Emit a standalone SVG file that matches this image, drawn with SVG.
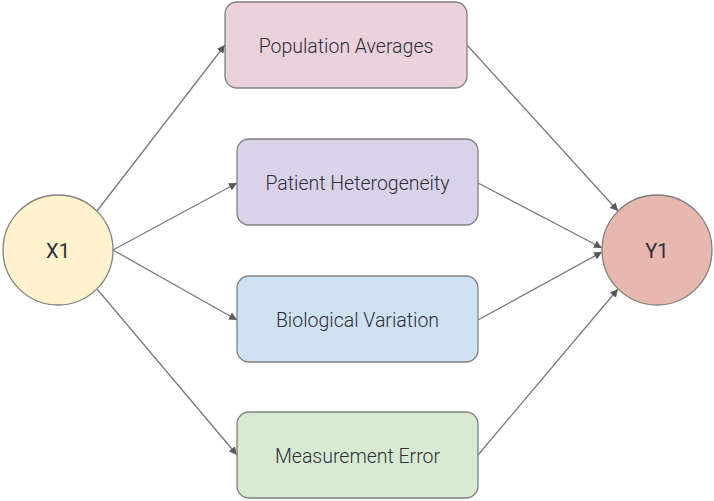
<svg xmlns="http://www.w3.org/2000/svg" width="714" height="501" viewBox="0 0 714 501">
<style>
.node{stroke:#808080;stroke-width:1.3}
.lbl{font-family:Roboto,"Liberation Sans",sans-serif;font-size:19.5px;font-weight:300;fill:#2e2e3a;text-anchor:middle;dominant-baseline:central}
.big{font-size:20px;font-weight:400}
.edge{stroke:#7a7a7a;stroke-width:1.3;fill:none;marker-end:url(#ah)}
</style>
<defs>
<marker id="ah" viewBox="0 0 10 10" refX="10" refY="5" markerWidth="8" markerHeight="8" markerUnits="userSpaceOnUse" orient="auto">
<path d="M0,0 L10,5 L0,10 z" fill="#595959"/>
</marker>
</defs>
<rect width="714" height="501" fill="#ffffff"/>
<g id="connectors">
<line class="edge" x1="97" y1="211" x2="225" y2="45"/>
<line class="edge" x1="113" y1="250" x2="237" y2="183"/>
<line class="edge" x1="113" y1="250" x2="237" y2="320"/>
<line class="edge" x1="97" y1="289" x2="237" y2="455"/>
<line class="edge" x1="467" y1="45" x2="618" y2="211"/>
<line class="edge" x1="478" y1="183" x2="602" y2="248"/>
<line class="edge" x1="478" y1="320" x2="602" y2="252"/>
<line class="edge" x1="478" y1="455" x2="618" y2="289"/>
</g>
<g id="X1">
<circle class="node" cx="58" cy="250" r="55" fill="#fff2cc"/>
<text class="lbl big" x="58" y="251">X1</text>
</g>
<g id="Y1">
<circle class="node" cx="657" cy="250" r="55" fill="#e6b8af"/>
<text class="lbl big" x="657" y="251">Y1</text>
</g>
<g id="population">
<rect class="node" x="225" y="2" width="242" height="86" rx="12" fill="#ead1dc"/>
<text class="lbl" x="346" y="46">Population Averages</text>
</g>
<g id="patient">
<rect class="node" x="237" y="139" width="241" height="86" rx="12" fill="#d9d2e9"/>
<text class="lbl" x="357.5" y="183">Patient Heterogeneity</text>
</g>
<g id="biological">
<rect class="node" x="237" y="276" width="241" height="86" rx="12" fill="#cfe2f3"/>
<text class="lbl" x="357.5" y="320">Biological Variation</text>
</g>
<g id="measurement">
<rect class="node" x="237" y="412" width="241" height="86" rx="12" fill="#d9ead3"/>
<text class="lbl" x="357.5" y="456">Measurement Error</text>
</g>
</svg>
